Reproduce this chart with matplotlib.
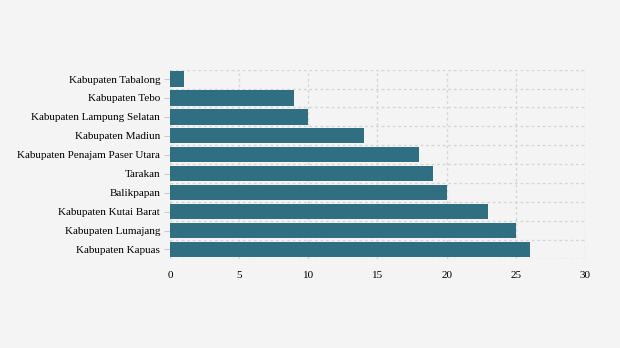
import matplotlib.pyplot as plt
import numpy as np

plt.rcParams['font.family'] = ['Liberation Serif', 'DejaVu Serif']

regions = ['Kabupaten Tabalong', 'Kabupaten Tebo', 'Kabupaten Lampung Selatan',
           'Kabupaten Madiun', 'Kabupaten Penajam Paser Utara', 'Tarakan',
           'Balikpapan', 'Kabupaten Kutai Barat', 'Kabupaten Lumajang',
           'Kabupaten Kapuas']
counts = [1, 9, 10, 14, 18, 19, 20, 23, 25, 26]

bg = '#f4f4f4'
fig = plt.figure(figsize=(6.2, 3.48), dpi=100, facecolor=bg)
ax = fig.add_axes([0.274, 0.256, 0.6695, 0.544], facecolor=bg)

ypos = np.arange(len(regions))
ax.barh(ypos, counts, height=0.8, color='#306f82', zorder=2)

ax.set_ylim(len(regions) - 0.5, -0.5)
ax.set_xlim(0, 30)
ax.set_xticks(range(0, 31, 5))
ax.set_yticks(ypos)
ax.set_yticklabels(regions)
ax.set_yticks(np.arange(-0.5, len(regions), 1), minor=True)

ax.grid(True, which='major', axis='x', color='#d6d6d6', linestyle=(0, (2, 2)), linewidth=1, zorder=1)
ax.grid(True, which='minor', axis='y', color='#d6d6d6', linestyle=(0, (2, 2)), linewidth=1, zorder=1)
ax.tick_params(axis='y', which='minor', length=0)
ax.tick_params(axis='y', which='major', length=4, color='#cccccc', labelsize=8, pad=3)
ax.tick_params(axis='x', length=0, labelsize=8, pad=9)
for s in ax.spines.values():
    s.set_visible(False)

fig.savefig('out.png', dpi=100, facecolor=bg)
